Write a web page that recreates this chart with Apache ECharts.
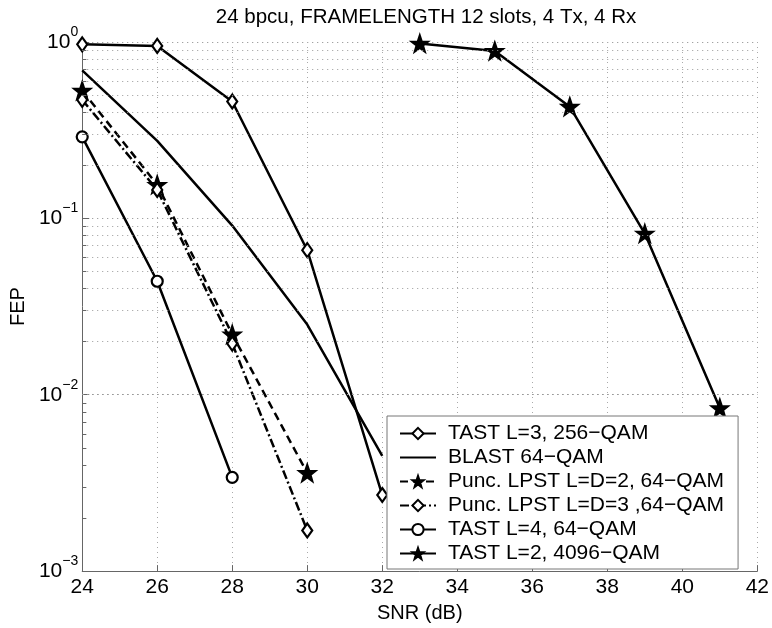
<!DOCTYPE html>
<html>
<head>
<meta charset="utf-8">
<script src="https://cdn.jsdelivr.net/npm/echarts@6/dist/echarts.min.js"></script>
<style>
  html, body { margin: 0; padding: 0; background: #fff; }
  #chart { width: 772px; height: 628px; }
</style>
</head>
<body>
<div id="chart"></div>
<script>
// SNR (dB) points
var snrA = [24, 26, 28, 30, 32]
var snrB = [24, 26, 28, 30]
var snrC = [24, 26, 28]
var snrD = [33, 35, 37, 39, 41]
// FEP values
var tastL3 = [0.97, 0.95, 0.46, 0.066, 0.0027]
var blast = [0.69, 0.275, 0.091, 0.025, 0.0045]
var puncD2 = [0.53, 0.155, 0.022, 0.0036]
var puncD3 = [0.47, 0.145, 0.0195, 0.0017]
var tastL4 = [0.29, 0.044, 0.0034]
var tastL2 = [0.98, 0.89, 0.43, 0.082, 0.0084]
// minor grid lines of the log axis
var minorGrid = [0.002, 0.003, 0.004, 0.005, 0.006, 0.007, 0.008, 0.009,
  0.02, 0.03, 0.04, 0.05, 0.06, 0.07, 0.08, 0.09,
  0.2, 0.3, 0.4, 0.5, 0.6, 0.7, 0.8, 0.9]

var star = 'path://M0,-10L2.35,-3.24L9.51,-3.09L3.8,1.24L5.88,8.09L0,4L-5.88,8.09L-3.8,1.24L-9.51,-3.09L-2.35,-3.24Z'
var font = 'Liberation Sans, Arial, Helvetica, sans-serif'

function zip (xs, ys) {
  return xs.map(function (x, i) { return [x, ys[i]] })
}

function lineSeries (name, xs, ys, symbol, size, type) {
  return {
    name: name,
    type: 'line',
    data: zip(xs, ys),
    symbol: symbol || 'none',
    symbolSize: size || 0,
    showSymbol: !!symbol,
    color: '#000',
    lineStyle: { color: '#000', width: 2.5, type: type || 'solid' },
    itemStyle: { color: symbol === star ? '#000' : '#fff', borderColor: '#000', borderWidth: 2.2 },
    z: 3
  }
}

var myChart = echarts.init(document.getElementById('chart'))

var series = [
  lineSeries('TAST L=3, 256\u2212QAM', snrA, tastL3, 'diamond', [10, 14]),
  lineSeries('BLAST 64\u2212QAM', snrA, blast),
  lineSeries('Punc. LPST L=D=2, 64\u2212QAM', snrB, puncD2, star, 16, [8, 5]),
  lineSeries('Punc. LPST L=D=3 ,64\u2212QAM', snrB, puncD3, 'diamond', [10, 14], [9, 3, 2, 3]),
  lineSeries('TAST L=4, 64\u2212QAM', snrC, tastL4, 'circle', 11),
  lineSeries('TAST L=2, 4096\u2212QAM', snrD, tastL2, star, 16)
]

// dotted minor grid
series.push({
  type: 'line',
  data: [],
  silent: true,
  z: 1,
  markLine: {
    silent: true,
    symbol: 'none',
    label: { show: false },
    lineStyle: { color: '#999', type: [1, 4], width: 1 },
    animation: false,
    data: minorGrid.map(function (v) { return { yAxis: v } })
  }
})
// short minor ticks on the left axis
series.push({
  type: 'line',
  data: [],
  silent: true,
  z: 2,
  markLine: {
    silent: true,
    symbol: 'none',
    label: { show: false },
    lineStyle: { color: '#666', type: 'solid', width: 1 },
    animation: false,
    data: minorGrid.map(function (v) { return [{ coord: [24, v] }, { coord: [24.11, v] }] })
  }
})

var legendData = series.slice(0, 6).map(function (s) {
  var item = { name: s.name }
  if (s.symbol === 'none') {
    item.itemStyle = { color: 'rgba(0,0,0,0)', borderColor: 'rgba(0,0,0,0)', borderWidth: 0 }
  }
  return item
})

var yLabel = function (v) {
  var e = Math.round(Math.log10(v))
  return '{b|10}{s|' + (e < 0 ? '\u2212' + (-e) : e) + '}'
}

myChart.setOption({
  animation: false,
  backgroundColor: '#fff',
  textStyle: { fontFamily: font },
  title: {
    text: '24 bpcu, FRAMELENGTH 12 slots, 4 Tx, 4 Rx',
    left: 421,
    top: 2,
    textAlign: 'center',
    textStyle: { fontSize: 20.5, fontWeight: 'normal', color: '#000', fontFamily: font }
  },
  grid: { left: 79, right: 13, top: 42, bottom: 53 },
  legend: {
    orient: 'vertical',
    left: 387,
    top: 416,
    width: 352,
    padding: [7, 14, 5, 12],
    itemWidth: 36,
    itemHeight: 14,
    itemGap: 3,
    backgroundColor: '#fff',
    borderColor: '#777',
    borderWidth: 1,
    textStyle: { fontSize: 21, color: '#000', fontFamily: font, padding: [0, 0, 0, 7] },
    data: legendData
  },
  xAxis: {
    type: 'value',
    min: 24,
    max: 42,
    interval: 2,
    name: 'SNR (dB)',
    nameLocation: 'middle',
    nameGap: 28,
    nameTextStyle: { fontSize: 20, color: '#000' },
    axisLine: { lineStyle: { color: '#666' } },
    axisTick: { inside: true, length: 6, lineStyle: { color: '#666' } },
    axisLabel: { fontSize: 21, color: '#000', margin: 6 },
    splitLine: { show: true, lineStyle: { color: '#aaa', type: [1, 4] } }
  },
  yAxis: {
    type: 'log',
    min: 0.001,
    max: 1,
    logBase: 10,
    name: 'FEP',
    nameLocation: 'middle',
    nameGap: 52,
    nameTextStyle: { fontSize: 20, color: '#000' },
    axisLine: { show: true, lineStyle: { color: '#666' } },
    axisTick: { inside: true, length: 7, lineStyle: { color: '#666' } },
    axisLabel: {
      color: '#000',
      margin: 4,
      formatter: yLabel,
      rich: {
        b: { fontSize: 21, color: '#000', fontFamily: font },
        s: { fontSize: 14, color: '#000', fontFamily: font, padding: [0, 0, 20, 0] }
      }
    },
    splitLine: { show: true, lineStyle: { color: '#888', type: [1, 4] } }
  },
  series: series
})
</script>
</body>
</html>
